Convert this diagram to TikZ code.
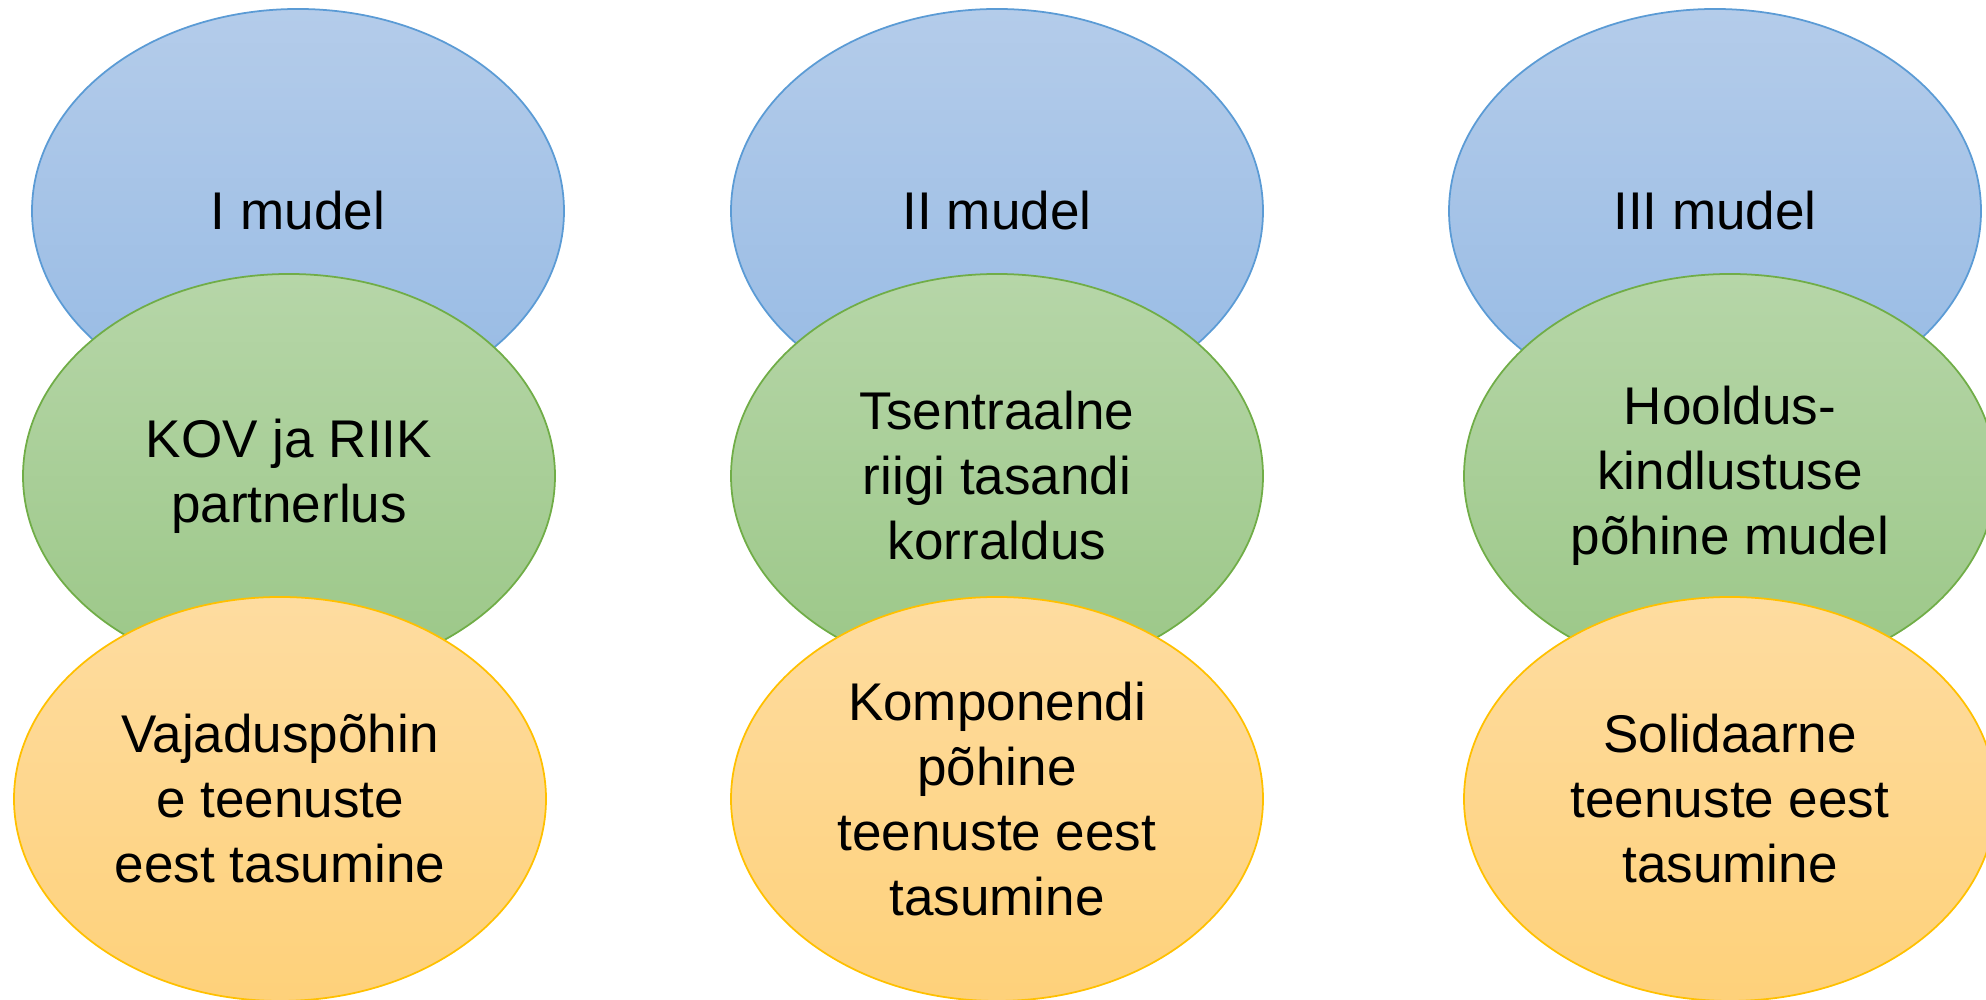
\documentclass[tikz,border=0pt]{standalone}
\usepackage{fontspec}
\setmainfont{Liberation Sans}
\usepackage{tikz}
\usetikzlibrary{shapes.geometric}
\definecolor{bluetop}{HTML}{B4CCEA}
\definecolor{bluebot}{HTML}{96BAE4}
\definecolor{blueline}{HTML}{5B9BD5}
\definecolor{greentop}{HTML}{B6D6A8}
\definecolor{greenbot}{HTML}{9BC787}
\definecolor{greenline}{HTML}{70AD47}
\definecolor{orangetop}{HTML}{FEDCA0}
\definecolor{orangebot}{HTML}{FED17A}
\definecolor{orangeline}{HTML}{FFC000}
\tikzstyle{oval} = [ellipse, minimum width=5.32cm, minimum height=4.04cm, inner sep=0pt, text centered, align=center, line width=0.5pt, font=\fontsize{15.1}{18.5}\selectfont]
\tikzstyle{model} = [oval, draw=blueline, top color=bluetop, bottom color=bluebot]
\tikzstyle{organise} = [oval, draw=greenline, top color=greentop, bottom color=greenbot]
\tikzstyle{payment} = [oval, draw=orangeline, top color=orangetop, bottom color=orangebot]

\begin{document}
\begin{tikzpicture}

	\useasboundingbox (0,0) rectangle (19.86,10);

	\node (model1) [model] at (2.98,7.89) {I mudel};
	\node (org1) [organise] at (2.89,5.24) {KOV ja RIIK\\partnerlus};
	\node (pay1) [payment] at (2.80,2.01) {Vajaduspõhin\\e teenuste\\eest tasumine};

	\node (model2) [model] at (9.97,7.89) {II mudel};
	\node (org2) [organise] at (9.97,5.24) {Tsentraalne\\riigi tasandi\\korraldus};
	\node (pay2) [payment] at (9.97,2.01) {Komponendi\\põhine\\teenuste eest\\tasumine};

	\node (model3) [model] at (17.15,7.89) {III mudel};
	\node (org3) [organise] at (17.30,5.24) {Hooldus-\\kindlustuse\\põhine mudel};
	\node (pay3) [payment] at (17.30,2.01) {Solidaarne\\teenuste eest\\tasumine};

\end{tikzpicture}
\end{document}
